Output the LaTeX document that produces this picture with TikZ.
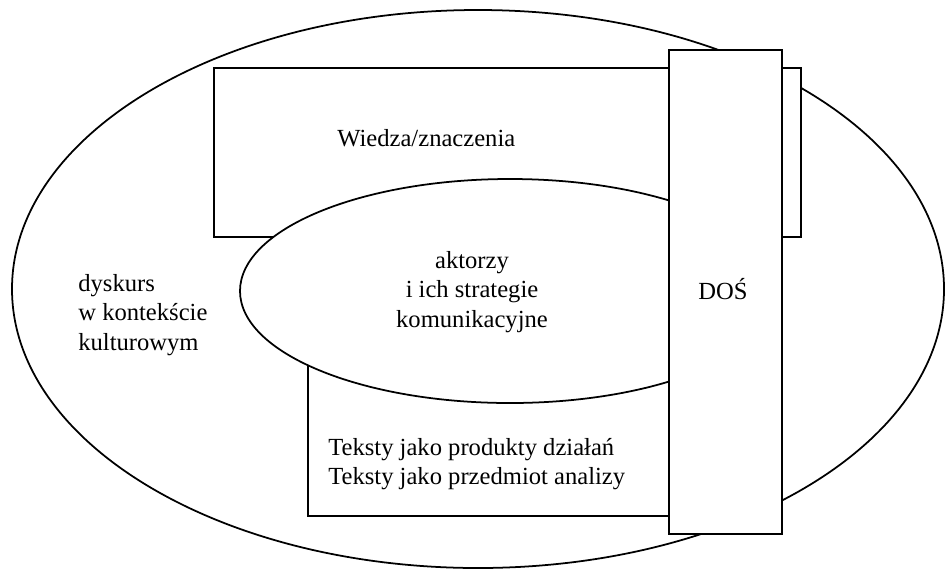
\documentclass[tikz,border=0pt]{standalone}
\usepackage{fontspec}
\setmainfont{Liberation Serif}
\usepackage{tikz}
\usetikzlibrary{positioning}
\tikzset{
    frame/.style={draw, line width=0.9pt, fill=white},
    oval/.style={draw, line width=1pt, fill=white},
    label/.style={inner sep=0pt, font=\fontsize{14}{16.6}\selectfont}
}

\begin{document}
\begin{tikzpicture}[x=0.02cm, y=-0.02cm]
    \useasboundingbox (0,0) rectangle (945,569);
    \def\dosLeft{669}
    \def\dosRight{782}
    \draw[oval] (478,289) ellipse [x radius=466, y radius=279];
    \draw[frame] (214,68) rectangle (801,237);
    \draw[frame] (308,340) rectangle (700,516);
    \draw[oval] (510,291) ellipse [x radius=270, y radius=112];
    \draw[frame, line width=1.5pt] (\dosLeft,50) rectangle (\dosRight,534);
    \node[label, anchor=base west] (wiedza) at (337,146) {Wiedza/znaczenia};
    \node[label, align=center] (aktorzy) at (472,292) {aktorzy\\i ich strategie\\komunikacyjne};
    \node[label, align=left, anchor=west] (dyskurs) at (78,315) {dyskurs\\w kontekście\\kulturowym};
    \node[label, anchor=base] (dos) at (723,299) {DOŚ};
    \node[label, align=left, anchor=west] (teksty) at (328,464) {Teksty jako produkty działań\\Teksty jako przedmiot analizy};
\end{tikzpicture}
\end{document}
